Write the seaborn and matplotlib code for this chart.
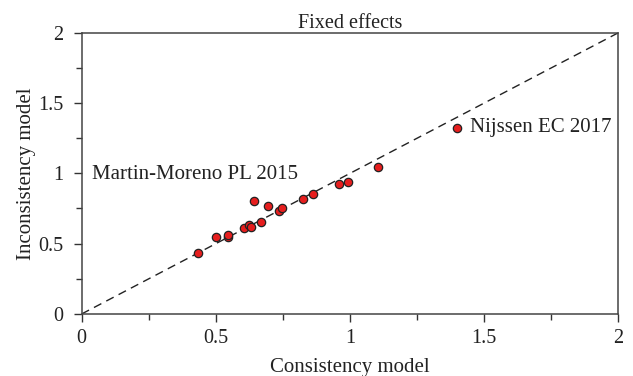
import numpy as np
import pandas as pd
import matplotlib
matplotlib.use('Agg')
import matplotlib.pyplot as plt
import seaborn as sns
from matplotlib.ticker import MultipleLocator

# ============================
# 数据
# ============================
consistency = [0.434, 0.500, 0.544, 0.544, 0.604, 0.623, 0.631, 0.642, 0.667,
               0.694, 0.734, 0.747, 0.823, 0.863, 0.959, 0.991, 1.105, 1.400]
inconsistency = [0.432, 0.545, 0.545, 0.564, 0.609, 0.633, 0.616, 0.806, 0.656,
                 0.768, 0.734, 0.754, 0.820, 0.853, 0.927, 0.936, 1.047, 1.325]
line_ref = [0, 2]
label_text = ['Martin-Moreno PL 2015', 'Nijssen EC 2017']
label_x = [0.038, 1.448]
label_y = [0.99, 1.325]

df = pd.DataFrame({'Consistency model': consistency,
                   'Inconsistency model': inconsistency})

# ============================
# 绘图
# ============================
sns.set_style('ticks')
plt.rcParams['font.family'] = ['Liberation Serif', 'DejaVu Serif']

fig = plt.figure(figsize=(6.33, 3.76), dpi=100)
ax = fig.add_axes([0.129, 0.165, 0.848, 0.748])

ax.plot(line_ref, line_ref, color='#222222', lw=1.0, ls=(0, (6, 4)), zorder=1)
sns.scatterplot(data=df, x='Consistency model', y='Inconsistency model', ax=ax,
                color='#e61e1e', edgecolor='#222222', linewidth=0.9, s=36,
                zorder=3, clip_on=False)

for t, x, y in zip(label_text, label_x, label_y):
    ax.text(x, y, t, fontsize=15, color='#222222', va='center', ha='left')

ax.set_xlim(0, 2)
ax.set_ylim(0, 2)
ax.xaxis.set_minor_locator(MultipleLocator(0.25))
ax.yaxis.set_minor_locator(MultipleLocator(0.25))
ax.set_xticks([0, 0.5, 1, 1.5, 2], ['0', '0.5', '1', '1.5', '2'])
ax.set_yticks([0, 0.5, 1, 1.5, 2], ['0', '0.5', '1', '1.5', '2'])
ax.tick_params(which='major', length=6, width=1.0, color='#333333',
               labelsize=14.5, labelcolor='#222222')
ax.tick_params(axis='x', which='major', pad=5)
ax.tick_params(axis='y', which='major', pad=7)
ax.tick_params(which='minor', length=4, width=1.0, color='#333333')

for s in ax.spines.values():
    s.set_visible(True)
    s.set_color('#444444')
    s.set_linewidth(1.1)

ax.set_xlabel('Consistency model', fontsize=15, color='#222222', labelpad=7)
ax.set_ylabel('Inconsistency model', fontsize=15, color='#222222', labelpad=2)
ax.set_title('Fixed effects', fontsize=14.5, color='#222222', pad=3)

fig.savefig('out.png', dpi=100)
plt.close(fig)
